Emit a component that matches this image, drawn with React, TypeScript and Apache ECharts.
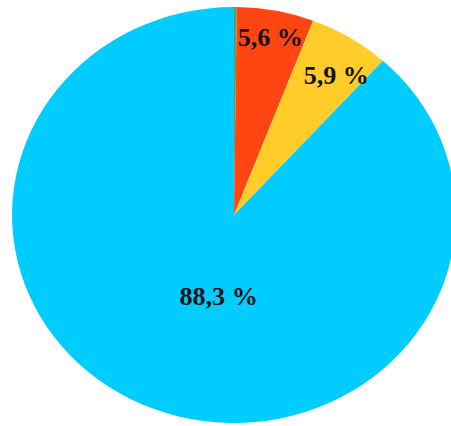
import React, { useEffect, useRef } from "react";
import * as echarts from "echarts";

const categories = ["Autre", "Catégorie A", "Catégorie B", "Catégorie C"];
const values = [0.2, 5.6, 5.9, 88.3];
const labels = ["", "5,6 %", "5,9 %", "88,3 %"];
const colors = ["#5aa05a", "#ff4512", "#ffcc2a", "#00ccff"];
const labelOffsets: [number, number][] = [[0, 0], [14, -73], [40, -48], [24, -19]];

const STRETCH = 1.067;

export default function App() {
  const ref = useRef<HTMLDivElement>(null);
  useEffect(() => {
    document.body.style.margin = "0";
    const chart = echarts.init(ref.current!, undefined, { renderer: "svg" });
    chart.setOption({
      animation: false,
      backgroundColor: "#ffffff",
      series: [
        {
          type: "pie",
          center: [219.3, 215],
          radius: [0, 208],
          startAngle: 90,
          clockwise: true,
          avoidLabelOverlap: false,
          labelLine: { show: false },
          itemStyle: { borderWidth: 0 },
          emphasis: { disabled: true },
          data: categories.map((name, i) => ({
            name,
            value: values[i],
            itemStyle: { color: colors[i] },
            label: {
              show: labels[i] !== "",
              position: "inside",
              formatter: labels[i],
              offset: labelOffsets[i],
              fontFamily: "Liberation Serif",
              fontWeight: "bold",
              fontSize: 24.5,
              color: "#141414",
            },
          })),
        },
      ],
    });
    return () => chart.dispose();
  }, []);
  return (
    <div style={{ width: 451, height: 426, overflow: "hidden" }}>
      <div
        ref={ref}
        style={{
          width: Math.round(451 / STRETCH),
          height: 426,
          transform: `scaleX(${STRETCH})`,
          transformOrigin: "0 0",
        }}
      />
    </div>
  );
}
